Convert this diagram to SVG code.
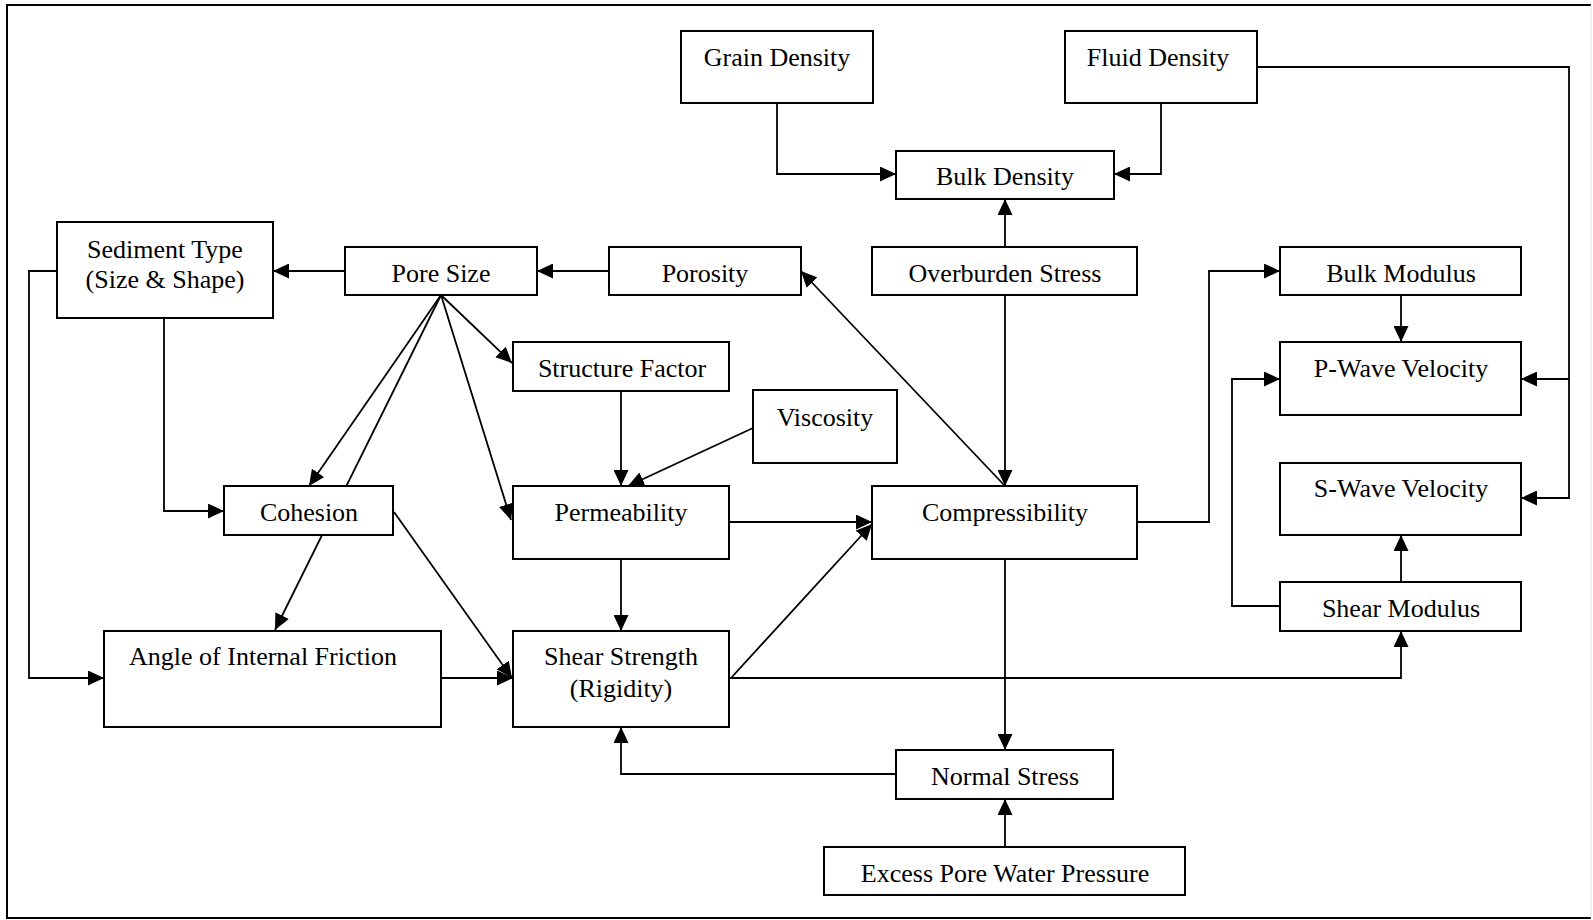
<svg xmlns="http://www.w3.org/2000/svg" width="1593" height="920" viewBox="0 0 1593 920">
<style>
.box rect{fill:#fff;stroke:#000;stroke-width:2}
.box text{font-family:"Liberation Serif","Times New Roman",serif;font-size:26px;fill:#000;text-anchor:middle}
.c path{fill:none;stroke:#000;stroke-width:1.8}
.c path.a{marker-end:url(#ah)}
</style>
<defs>
<marker id="ah" markerUnits="userSpaceOnUse" markerWidth="16" markerHeight="15" refX="16" refY="7.5" orient="auto">
<path d="M0,0 L16,7.5 L0,15 z" fill="#000"/>
</marker>
</defs>
<rect x="0" y="0" width="1593" height="920" fill="#fff"/>
<path d="M1591,5 H7 V918 H1591" fill="none" stroke="#000" stroke-width="2"/>
<path d="M1591,5 V918" fill="none" stroke="#ddd" stroke-width="1"/>

<g class="c" id="connectors">
<path class="a" d="M777,103 V174 H896"/>
<path class="a" d="M1161,103 V174 H1114"/>
<path class="a" d="M1005,247 V199"/>
<path class="a" d="M1257,67 H1569 V498 H1521"/>
<path class="a" d="M1569,379 H1521"/>
<path class="a" d="M609,271 H537"/>
<path class="a" d="M345,271 H273"/>
<path class="a" d="M164,318 V511 H224"/>
<path class="a" d="M57,271 H29 V678 H104"/>
<path class="a" d="M441,295 L512,363"/>
<path class="a" d="M441,295 L309,486"/>
<path class="a" d="M441,295 L275,630"/>
<path class="a" d="M441,295 L511,520"/>
<path class="a" d="M621,391 V486"/>
<path class="a" d="M753,428 L628,486"/>
<path class="a" d="M621,559 V631"/>
<path class="a" d="M394,512 L512,678"/>
<path class="a" d="M441,678 H513"/>
<path class="a" d="M729,522 H872"/>
<path class="a" d="M731,678 L872,524"/>
<path class="a" d="M729,678 H1401 V631"/>
<path class="a" d="M1005,295 V486"/>
<path class="a" d="M1005,486 L801,271"/>
<path class="a" d="M1137,522 H1209 V271 H1280"/>
<path class="a" d="M1401,295 V342"/>
<path class="a" d="M1280,606 H1232 V379 H1280"/>
<path class="a" d="M1401,582 V535"/>
<path class="a" d="M1005,559 V750"/>
<path class="a" d="M896,774 H621 V727"/>
<path class="a" d="M1005,847 V799"/>
</g>

<g class="box" id="grain-density"><rect x="681" y="31" width="192" height="72"/><text x="777" y="66">Grain Density</text></g>
<g class="box" id="fluid-density"><rect x="1065" y="31" width="192" height="72"/><text x="1158" y="66">Fluid Density</text></g>
<g class="box" id="bulk-density"><rect x="896" y="151" width="218" height="48"/><text x="1005" y="185">Bulk Density</text></g>
<g class="box" id="sediment-type"><rect x="57" y="222" width="216" height="96"/><text x="165" y="258">Sediment Type</text><text x="165" y="288">(Size &amp; Shape)</text></g>
<g class="box" id="pore-size"><rect x="345" y="247" width="192" height="48"/><text x="441" y="282">Pore Size</text></g>
<g class="box" id="porosity"><rect x="609" y="247" width="192" height="48"/><text x="705" y="282">Porosity</text></g>
<g class="box" id="overburden-stress"><rect x="872" y="247" width="265" height="48"/><text x="1005" y="282">Overburden Stress</text></g>
<g class="box" id="bulk-modulus"><rect x="1280" y="247" width="241" height="48"/><text x="1401" y="282">Bulk Modulus</text></g>
<g class="box" id="structure-factor"><rect x="513" y="342" width="216" height="49"/><text x="622" y="377">Structure Factor</text></g>
<g class="box" id="p-wave-velocity"><rect x="1280" y="342" width="241" height="73"/><text x="1401" y="377">P-Wave Velocity</text></g>
<g class="box" id="viscosity"><rect x="753" y="390" width="144" height="73"/><text x="825" y="426">Viscosity</text></g>
<g class="box" id="s-wave-velocity"><rect x="1280" y="463" width="241" height="72"/><text x="1401" y="497">S-Wave Velocity</text></g>
<g class="box" id="cohesion"><rect x="224" y="486" width="169" height="49"/><text x="309" y="521">Cohesion</text></g>
<g class="box" id="permeability"><rect x="513" y="486" width="216" height="73"/><text x="621" y="521">Permeability</text></g>
<g class="box" id="compressibility"><rect x="872" y="486" width="265" height="73"/><text x="1005" y="521">Compressibility</text></g>
<g class="box" id="shear-modulus"><rect x="1280" y="582" width="241" height="49"/><text x="1401" y="617">Shear Modulus</text></g>
<g class="box" id="angle-internal-friction"><rect x="104" y="631" width="337" height="96"/><text x="263" y="665">Angle of Internal Friction</text></g>
<g class="box" id="shear-strength"><rect x="513" y="631" width="216" height="96"/><text x="621" y="665">Shear Strength</text><text x="621" y="697">(Rigidity)</text></g>
<g class="box" id="normal-stress"><rect x="896" y="750" width="217" height="49"/><text x="1005" y="785">Normal Stress</text></g>
<g class="box" id="excess-pore-water-pressure"><rect x="824" y="847" width="361" height="48"/><text x="1005" y="882">Excess Pore Water Pressure</text></g>
</svg>
